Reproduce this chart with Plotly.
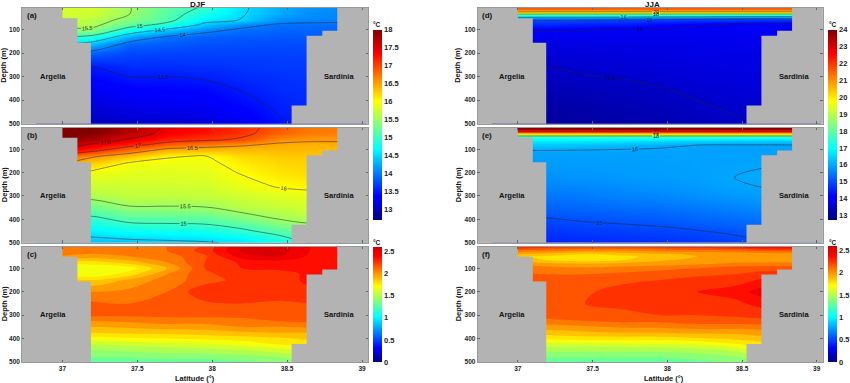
import plotly.graph_objects as go

W, H = 850, 383
lats = [36.95, 37.2, 37.45, 37.7, 37.95, 38.2, 38.45, 38.65, 38.9]

depth_ab = [0, 30, 60, 80, 100, 130, 160, 200, 260, 300, 350, 400, 450, 500]
temp_a = [
    [15.8, 15.8, 15.51, 15.2, 14.98, 14.55, 14.3, 14.15, 14.1],
    [15.8, 15.78, 15.51, 15.15, 14.85, 14.53, 14.27, 14.12, 14.08],
    [15.75, 15.65, 15.38, 15.1, 14.62, 14.48, 14.13, 14.06, 14.04],
    [15.7, 15.6, 15.15, 14.88, 14.4, 14.1, 13.95, 13.95, 13.95],
    [15.4, 15.42, 14.82, 14.43, 14.1, 13.95, 13.9, 13.9, 13.9],
    [15.0, 14.9, 14.25, 13.97, 13.88, 13.85, 13.83, 13.83, 13.83],
    [14.6, 14.35, 13.9, 13.85, 13.8, 13.78, 13.77, 13.77, 13.77],
    [14.0, 13.88, 13.75, 13.73, 13.72, 13.72, 13.72, 13.72, 13.72],
    [13.55, 13.5, 13.6, 13.6, 13.62, 13.65, 13.67, 13.68, 13.68],
    [13.42, 13.4, 13.5, 13.5, 13.53, 13.6, 13.63, 13.65, 13.65],
    [13.3, 13.3, 13.38, 13.4, 13.42, 13.52, 13.6, 13.62, 13.62],
    [13.2, 13.2, 13.27, 13.3, 13.33, 13.45, 13.56, 13.6, 13.6],
    [13.1, 13.1, 13.18, 13.2, 13.24, 13.35, 13.52, 13.57, 13.57],
    [13.0, 13.0, 13.08, 13.1, 13.15, 13.25, 13.47, 13.55, 13.55],
]
temp_b = [
    [18.1, 18.05, 17.8, 17.45, 17.3, 17.1, 16.9, 16.75, 16.7],
    [18.1, 18.0, 17.7, 17.4, 17.25, 17.08, 16.85, 16.7, 16.68],
    [18.0, 17.75, 17.45, 17.15, 17.05, 16.95, 16.6, 16.55, 16.55],
    [17.8, 17.45, 17.15, 16.85, 16.68, 16.55, 16.45, 16.42, 16.42],
    [17.5, 17.2, 16.78, 16.45, 16.38, 16.38, 16.38, 16.38, 16.38],
    [16.9, 16.55, 16.3, 16.03, 15.98, 16.2, 16.28, 16.3, 16.3],
    [16.6, 16.25, 15.96, 15.92, 15.93, 16.1, 16.22, 16.25, 16.25],
    [16.2, 15.93, 15.88, 15.87, 15.88, 16.02, 16.15, 16.2, 16.2],
    [15.8, 15.75, 15.76, 15.77, 15.78, 15.9, 16.02, 16.06, 16.06],
    [15.6, 15.61, 15.7, 15.7, 15.72, 15.78, 15.85, 15.9, 15.9],
    [15.3, 15.26, 15.47, 15.47, 15.48, 15.65, 15.72, 15.78, 15.78],
    [14.95, 14.91, 15.1, 15.12, 15.14, 15.3, 15.5, 15.6, 15.6],
    [14.65, 14.66, 14.75, 14.78, 14.8, 14.93, 15.15, 15.3, 15.3],
    [14.35, 14.35, 14.4, 14.43, 14.47, 14.55, 14.75, 15.0, 15.0],
]
depth_c = [0, 25, 50, 75, 100, 125, 150, 200, 250, 300, 325, 350, 375, 400, 425, 450, 475, 500]
diff_c = [
    [2.2, 2.15, 2.15, 2.2, 2.3, 2.6, 2.65, 2.5, 2.5],
    [2.2, 2.15, 2.15, 2.2, 2.34, 2.62, 2.65, 2.5, 2.5],
    [2.1, 2.05, 2.1, 2.15, 2.28, 2.55, 2.6, 2.48, 2.48],
    [1.85, 1.85, 1.95, 2.1, 2.3, 2.42, 2.45, 2.45, 2.45],
    [1.7, 1.7, 1.75, 2.0, 2.3, 2.4, 2.42, 2.42, 2.42],
    [1.75, 1.72, 1.85, 2.1, 2.28, 2.35, 2.36, 2.42, 2.42],
    [2.0, 1.9, 2.02, 2.15, 2.25, 2.34, 2.36, 2.42, 2.42],
    [2.15, 2.1, 2.13, 2.2, 2.38, 2.38, 2.37, 2.38, 2.38],
    [2.25, 2.22, 2.2, 2.22, 2.28, 2.3, 2.28, 2.3, 2.3],
    [2.2, 2.22, 2.22, 2.23, 2.23, 2.22, 2.25, 2.25, 2.25],
    [2.1, 2.1, 2.12, 2.15, 2.15, 2.18, 2.2, 2.22, 2.22],
    [2.0, 2.0, 2.02, 2.05, 2.05, 2.1, 2.1, 2.12, 2.12],
    [1.9, 1.9, 1.92, 1.93, 1.95, 1.98, 2.0, 2.0, 2.0],
    [1.75, 1.75, 1.78, 1.8, 1.82, 1.85, 1.88, 1.92, 1.92],
    [1.6, 1.6, 1.63, 1.65, 1.68, 1.72, 1.8, 1.82, 1.82],
    [1.5, 1.5, 1.52, 1.55, 1.56, 1.6, 1.65, 1.7, 1.7],
    [1.42, 1.42, 1.43, 1.45, 1.45, 1.48, 1.52, 1.6, 1.6],
    [1.33, 1.33, 1.34, 1.35, 1.35, 1.38, 1.42, 1.5, 1.5],
]
depth_d = [0, 10, 20, 27, 33, 40, 49, 60, 75, 100, 130, 160, 200, 260, 300, 350, 400, 450, 500]
temp_d = [
    [21.8, 21.8, 21.8, 21.8, 21.8, 21.8, 21.8, 21.8, 21.8],
    [21.5, 21.5, 21.5, 21.5, 21.5, 21.5, 21.5, 21.5, 21.5],
    [20.6, 20.5, 20.5, 20.5, 20.5, 20.5, 20.5, 20.5, 20.5],
    [19.7, 19.6, 19.6, 19.6, 19.6, 19.6, 19.6, 19.6, 19.6],
    [18.1, 18.0, 18.0, 18.0, 18.0, 18.0, 18.0, 18.0, 18.0],
    [17.0, 16.9, 16.9, 16.9, 16.8, 16.8, 16.7, 16.7, 16.7],
    [15.8, 15.7, 15.7, 15.6, 15.5, 15.4, 15.3, 15.3, 15.3],
    [15.0, 15.0, 14.95, 14.9, 14.85, 14.8, 14.75, 14.7, 14.7],
    [14.6, 14.6, 14.5, 14.45, 14.25, 14.05, 14.0, 14.0, 14.0],
    [14.05, 14.05, 14.02, 13.97, 13.95, 13.95, 13.95, 13.95, 13.95],
    [13.85, 13.85, 13.85, 13.85, 13.85, 13.87, 13.9, 13.9, 13.9],
    [13.78, 13.78, 13.78, 13.8, 13.8, 13.82, 13.85, 13.85, 13.85],
    [13.65, 13.65, 13.68, 13.72, 13.75, 13.78, 13.8, 13.8, 13.8],
    [13.5, 13.5, 13.57, 13.62, 13.66, 13.7, 13.75, 13.75, 13.75],
    [13.42, 13.42, 13.48, 13.52, 13.6, 13.65, 13.7, 13.7, 13.7],
    [13.3, 13.3, 13.36, 13.42, 13.48, 13.58, 13.63, 13.65, 13.65],
    [13.2, 13.2, 13.25, 13.32, 13.4, 13.5, 13.58, 13.6, 13.6],
    [13.1, 13.1, 13.16, 13.23, 13.3, 13.42, 13.52, 13.55, 13.55],
    [13.0, 13.0, 13.07, 13.14, 13.22, 13.33, 13.45, 13.5, 13.5],
]
depth_e = [0, 10, 17, 25, 30, 39, 43, 52, 65, 82, 105, 130, 180, 220, 265, 300, 350, 400, 450, 500]
temp_e = [
    [24.2, 24.2, 24.2, 24.2, 24.2, 24.2, 24.2, 24.2, 24.2],
    [23.8, 23.8, 23.8, 23.8, 23.8, 23.8, 23.8, 23.8, 23.8],
    [23.0, 23.0, 23.0, 23.0, 23.0, 23.0, 23.0, 23.0, 23.0],
    [22.0, 22.0, 22.0, 22.0, 22.0, 22.0, 22.0, 22.0, 22.0],
    [21.0, 21.0, 21.0, 21.0, 21.0, 21.0, 21.0, 21.0, 21.0],
    [19.3, 19.3, 19.3, 19.3, 19.3, 19.3, 19.3, 19.3, 19.3],
    [18.0, 18.0, 18.0, 18.0, 18.0, 18.0, 18.0, 18.0, 18.0],
    [17.3, 17.3, 17.3, 17.3, 17.3, 17.3, 17.3, 17.2, 17.2],
    [16.8, 16.8, 16.8, 16.7, 16.6, 16.5, 16.4, 16.4, 16.4],
    [16.4, 16.4, 16.3, 16.2, 16.1, 16.0, 15.98, 15.98, 15.98],
    [16.0, 16.0, 15.98, 15.95, 15.93, 15.93, 15.93, 15.93, 15.93],
    [15.92, 15.92, 15.92, 15.92, 15.93, 15.93, 15.93, 15.95, 15.95],
    [15.85, 15.85, 15.87, 15.88, 15.9, 15.93, 15.97, 16.0, 16.0],
    [15.75, 15.75, 15.8, 15.85, 15.88, 15.92, 16.0, 16.05, 16.05],
    [15.6, 15.6, 15.65, 15.72, 15.78, 15.85, 15.95, 16.0, 16.0],
    [15.47, 15.47, 15.52, 15.6, 15.66, 15.75, 15.85, 15.9, 15.9],
    [15.25, 15.25, 15.3, 15.36, 15.42, 15.5, 15.6, 15.7, 15.7],
    [14.97, 14.97, 15.05, 15.1, 15.15, 15.25, 15.35, 15.45, 15.45],
    [14.75, 14.75, 14.8, 14.85, 14.9, 14.98, 15.08, 15.2, 15.2],
    [14.55, 14.55, 14.58, 14.62, 14.66, 14.72, 14.85, 14.95, 14.95],
]
depth_f = [0, 10, 20, 30, 40, 50, 65, 80, 100, 125, 150, 200, 250, 300, 325, 350, 375, 400, 425, 450, 475, 500]
diff_f = [
    [2.45, 2.42, 2.42, 2.42, 2.42, 2.45, 2.48, 2.55, 2.55],
    [2.38, 2.32, 2.3, 2.3, 2.32, 2.35, 2.4, 2.48, 2.48],
    [2.25, 2.2, 2.15, 2.15, 2.2, 2.22, 2.25, 2.32, 2.32],
    [2.1, 2.08, 2.02, 2.03, 2.08, 2.1, 2.12, 2.15, 2.15],
    [2.0, 1.95, 1.9, 1.93, 1.98, 2.02, 2.05, 2.05, 2.05],
    [1.92, 1.88, 1.83, 1.87, 1.94, 2.0, 2.02, 2.0, 2.0],
    [1.95, 1.9, 1.85, 1.9, 1.98, 2.03, 2.05, 2.03, 2.03],
    [2.1, 2.02, 2.0, 2.02, 2.05, 2.08, 2.12, 2.13, 2.13],
    [2.15, 2.15, 2.12, 2.15, 2.17, 2.2, 2.25, 2.25, 2.25],
    [2.22, 2.2, 2.2, 2.22, 2.25, 2.28, 2.3, 2.35, 2.35],
    [2.25, 2.25, 2.26, 2.27, 2.3, 2.33, 2.35, 2.42, 2.42],
    [2.25, 2.25, 2.28, 2.35, 2.4, 2.4, 2.45, 2.55, 2.55],
    [2.28, 2.28, 2.3, 2.32, 2.35, 2.38, 2.37, 2.45, 2.45],
    [2.25, 2.25, 2.27, 2.28, 2.3, 2.3, 2.32, 2.33, 2.33],
    [2.15, 2.17, 2.2, 2.22, 2.22, 2.25, 2.25, 2.28, 2.28],
    [2.05, 2.05, 2.08, 2.12, 2.12, 2.15, 2.15, 2.15, 2.15],
    [1.95, 1.95, 1.98, 2.0, 2.0, 2.02, 2.02, 2.05, 2.05],
    [1.8, 1.82, 1.85, 1.85, 1.85, 1.88, 1.92, 1.95, 1.95],
    [1.65, 1.65, 1.65, 1.67, 1.68, 1.7, 1.78, 1.85, 1.85],
    [1.5, 1.52, 1.53, 1.53, 1.53, 1.56, 1.62, 1.75, 1.75],
    [1.42, 1.42, 1.42, 1.42, 1.42, 1.45, 1.5, 1.6, 1.6],
    [1.35, 1.35, 1.35, 1.35, 1.35, 1.37, 1.42, 1.5, 1.5],
]
land_left_lat = [36.6, 37.0, 37.0, 37.1, 37.1, 37.19, 37.19, 36.6]
land_left_depth = [-5, -5, 51, 51, 156, 156, 520, 520]
land_right_lat = [39.2, 38.835, 38.835, 38.735, 38.735, 38.63, 38.63, 38.53, 38.53, 39.2]
land_right_depth = [-5, -5, 105, 105, 126, 126, 423, 423, 520, 520]
levels_a = [13.5, 14, 14.5, 15, 15.5]
levels_b = [14.5, 15, 15.5, 16, 16.5, 17, 17.5]
levels_d = [13.5, 14, 15, 16, 18, 20]
levels_e = [15, 16, 18, 22]
ticks_depth = [100, 200, 300, 400, 500]
ticks_lat = [37, 37.5, 38, 38.5, 39]
ticks_temp_left = [13, 13.5, 14, 14.5, 15, 15.5, 16, 16.5, 17, 17.5, 18]
ticks_temp_right = [13, 14, 15, 16, 17, 18, 19, 20, 21, 22, 23, 24]
ticks_diff = [0, 0.5, 1, 1.5, 2, 2.5]

FONT = "Liberation Sans"
GRAY = "#b3b3b3"
TXT = "#222222"
jet = [[0, "#000080"], [0.115, "#0000ff"], [0.125, "#0000ff"], [0.375, "#00ffff"], [0.5, "#80ff80"],
       [0.625, "#ffff00"], [0.875, "#ff0000"], [1, "#800000"]]
jet_cut = [[0, "#000080"], [0.12, "#0000ff"], [0.395, "#00ffff"], [0.526, "#80ff80"],
           [0.658, "#ffff00"], [0.921, "#ff0000"], [1, "#d00000"]]

fig = go.Figure()
XRANGE = [36.73, 39.04]
columns = {"L": (22, 368), "R": (477.5, 822.7)}
rows = {"t": (8, 123.7, 7.7), "m": (127.7, 242.7, 7.7), "b": (246.7, 362, 7.7)}
panels = [("(a)", "L", "t"), ("(b)", "L", "m"), ("(c)", "L", "b"),
          ("(d)", "R", "t"), ("(e)", "R", "m"), ("(f)", "R", "b")]
annos = []


def txt(x, y, s, size=7.5, xanchor="center", angle=0, bold=True):
    annos.append(dict(x=x / W, y=1 - y / H, xref="paper", yref="paper", text=f"<b>{s}</b>" if bold else s,
                      showarrow=False, xanchor=xanchor, yanchor="middle", textangle=angle, borderpad=0,
                      font=dict(family=FONT, size=size, color="#111111")))


for i, (name, col, row) in enumerate(panels):
    n = i + 1
    x0, x1 = columns[col]
    y0, y1, top = rows[row]
    suffix = "" if n == 1 else str(n)
    fig.update_layout({
        f"xaxis{suffix}": dict(domain=[x0 / W, x1 / W], range=XRANGE, tickvals=ticks_lat,
                               ticktext=[str(v) for v in ticks_lat] if row == "b" else None,
                               showticklabels=row == "b", ticks="inside", ticklen=2.5, tickwidth=0.6,
                               tickcolor="#666666", mirror="ticks", showline=True, linecolor="#999999",
                               linewidth=0.6, showgrid=False, zeroline=False, anchor=f"y{suffix}",
                               tickfont=dict(family=FONT, size=6.5, color=TXT, weight="bold")),
        f"yaxis{suffix}": dict(domain=[1 - y1 / H, 1 - y0 / H], range=[500, top], tickvals=ticks_depth,
                               ticks="inside", ticklen=2.5, tickwidth=0.6, tickcolor="#666666", mirror="ticks",
                               showline=True, linecolor="#999999", linewidth=0.6, showgrid=False,
                               zeroline=False, anchor=f"x{suffix}",
                               tickfont=dict(family=FONT, size=6.5, color=TXT, weight="bold")),
    })
    txt(x0 + 3.5, y0 + 8, name, size=8, xanchor="left")
    txt((53 if col == "L" else 511.5), y0 + 68, "Argelia")
    txt((339 if col == "L" else 794), y0 + 68, "Sardinia")
    txt((4 if col == "L" else 458), (y0 + y1) / 2, "Depth (m)", angle=-90)


def cbar(col_x, top_px, len_px, vals):
    return dict(x=col_x / W, xanchor="left", xpad=0, y=1 - top_px / H, yanchor="top", ypad=0,
                thickness=8.5, thicknessmode="pixels", len=len_px, lenmode="pixels",
                outlinewidth=0, ticks="", tickvals=vals, ticktext=[str(v) for v in vals],
                tickfont=dict(family=FONT, size=7.5, color=TXT, weight="bold"))


def field(n, depth, z, zmin, zmax, levels, bar=None):
    s = "" if n == 1 else str(n)
    fig.add_trace(go.Heatmap(x=lats, y=depth, z=z, zmin=zmin, zmax=zmax, colorscale=jet, zsmooth="best",
                             xaxis=f"x{s}", yaxis=f"y{s}", showscale=bar is not None, colorbar=bar,
                             hoverinfo="skip"))
    for lv in levels:
        fig.add_trace(go.Contour(x=lats, y=depth, z=z, autocontour=False, showscale=False,
                                 contours=dict(coloring="none", start=lv, end=lv, size=1, showlabels=True,
                                               labelfont=dict(family=FONT, size=5.5, color="#111111")),
                                 line=dict(color="#222222", width=0.5), xaxis=f"x{s}", yaxis=f"y{s}",
                                 hoverinfo="skip"))


def bands(n, depth, z, bar):
    s = "" if n == 1 else str(n)
    fig.add_trace(go.Contour(x=lats, y=depth, z=z, zmin=0, zmax=2.72, colorscale=jet_cut, autocontour=False,
                             contours=dict(coloring="fill", start=0, end=2.7, size=0.1, showlines=False),
                             line=dict(width=0), xaxis=f"x{s}", yaxis=f"y{s}", showscale=False, hoverinfo="skip"))
    # continuous scale shown beside the banded field
    fig.add_trace(go.Heatmap(x=lats, y=depth, z=z, zmin=0, zmax=2.6, colorscale=jet_cut, opacity=0,
                             xaxis=f"x{s}", yaxis=f"y{s}", showscale=True, colorbar=bar, hoverinfo="skip"))


field(1, depth_ab, temp_a, 12.72, 18, levels_a, cbar(372.7, 29.7, 189.6, ticks_temp_left))
field(2, depth_ab, temp_b, 12.72, 18, levels_b)
bands(3, depth_c, diff_c, cbar(372.7, 247, 115.3, ticks_diff))
field(4, depth_d, temp_d, 12.75, 24, levels_d, cbar(828, 29.7, 190, ticks_temp_right))
field(5, depth_e, temp_e, 12.75, 24, levels_e)
bands(6, depth_f, diff_f, cbar(828, 246, 115.7, ticks_diff))

for n in range(1, 7):
    s = "" if n == 1 else str(n)
    for lx, ly in ((land_left_lat, land_left_depth), (land_right_lat, land_right_depth)):
        fig.add_trace(go.Scatter(x=lx, y=ly, mode="lines", fill="toself", fillcolor=GRAY, line=dict(width=0),
                                 xaxis=f"x{s}", yaxis=f"y{s}", showlegend=False, hoverinfo="skip"))

txt(197, 4.6, "DJF", size=8)
txt(652, 4.6, "JJA", size=8)
txt(195, 378, "Latitude (°)")
txt(664, 378, "Latitude (°)")
txt(376.5, 25, "°C", size=6.5)
txt(376.5, 243, "°C", size=6.5)
txt(832.5, 25, "°C", size=6.5)
txt(832.5, 242, "°C", size=6.5)

fig.update_layout(width=W, height=H, margin=dict(l=0, r=0, t=0, b=0, autoexpand=False), paper_bgcolor="white",
                  plot_bgcolor=GRAY, showlegend=False, annotations=annos)
fig.write_html("out.html", config={"displayModeBar": False},
               post_script="document.body.style.margin='0';document.body.style.overflow='hidden';")
